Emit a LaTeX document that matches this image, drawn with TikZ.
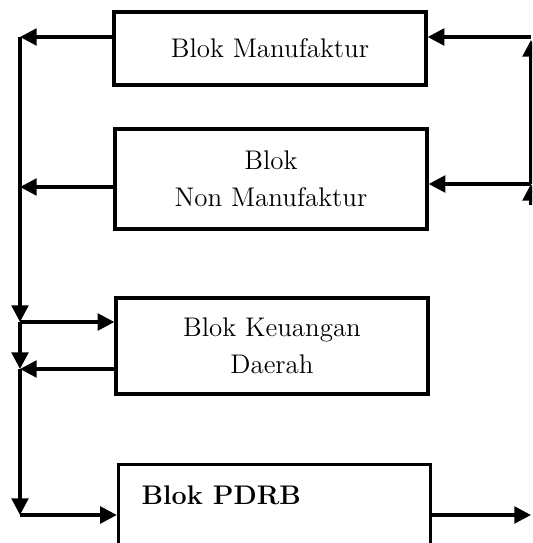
\documentclass[tikz,border=0pt]{standalone}
\usepackage{tikz}
\usetikzlibrary{arrows.meta}

\begin{document}
\begin{tikzpicture}[x=0.015cm, y=-0.015cm, line width=1.4pt,
  blok/.style={rectangle, draw, minimum width=4.68cm, align=center, inner sep=0pt,
    font=\fontsize{11.5}{16}\selectfont},
  arr/.style={-{Triangle[length=0.25cm, width=0.25cm]}}]
\clip (0,0) rectangle (532,543);
\fill[white] (0,0) rectangle (532,543);
\node[blok, minimum height=1.095cm] (man) at (270,48.5) {Blok Manufaktur};
\node[blok, minimum height=1.5cm] (non) at (271,179) {Blok\\Non Manufaktur};
\node[blok, minimum height=1.44cm] (keu) at (272,346) {Blok Keuangan\\Daerah};
\node[blok, minimum height=1.43cm] (pdrb) at (274.5,512) {};
\node[anchor=west, inner sep=0pt, font=\fontsize{11.5}{16}\selectfont\bfseries] (pdrblbl) at (140,495) {Blok PDRB};
\coordinate (l1) at (20,37);
\coordinate (l2) at (20,187);
\coordinate (b1) at (20,322);
\coordinate (b2) at (20,369);
\coordinate (b3) at (20,515);
\coordinate (r0) at (531,205);
\coordinate (r1) at (531,37);
\coordinate (r1t) at (531,40);
\coordinate (r2) at (531,184);
\coordinate (r3) at (531,515);
\draw[arr] (man.west |- l1) -- (l1);
\draw[arr] (non.west |- l2) -- (l2);
\draw[arr] (l1) -- (b1);
\draw[arr] (b1) -- (b2);
\draw[arr] (b2) -- (b3);
\draw[arr] (b1) -- (keu.west |- b1);
\draw[arr] (keu.west |- b2) -- (b2);
\draw[arr] (b3) -- (pdrb.west |- b3);
\draw[arr] (r1) -- (man.east |- r1);
\draw[arr] (r2) -- (non.east |- r2);
\draw[arr] (r0) -- (r2);
\draw[arr] (r2) -- (r1t);
\draw[arr] (pdrb.east |- r3) -- (r3);
\end{tikzpicture}
\end{document}
